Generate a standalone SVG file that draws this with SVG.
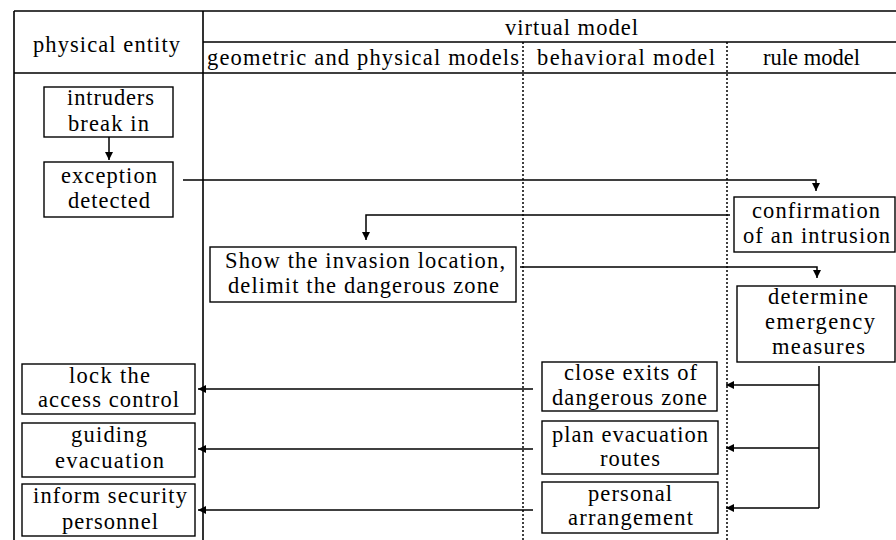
<svg xmlns="http://www.w3.org/2000/svg" width="896" height="540" viewBox="0 0 896 540">
<style>
text{font-family:"Liberation Serif","Times New Roman",serif;font-size:22.5px;fill:#000}
.grid{stroke:#000;stroke-width:1.6;fill:none}
.dot{stroke:#000;stroke-width:1.5;stroke-dasharray:2 2;fill:none}
.box{fill:#fff;stroke:#000;stroke-width:1.4}
.con{stroke:#000;stroke-width:1.5;fill:none;marker-end:url(#ah)}
.ln{stroke:#000;stroke-width:1.5;fill:none}
</style>
<defs>
<marker id="ah" markerUnits="userSpaceOnUse" markerWidth="8" markerHeight="8" refX="8" refY="4" orient="auto">
<path d="M0,0 L8,4 L0,8 z" fill="#000"/>
</marker>
</defs>
<rect width="896" height="540" fill="#fff"/>
<g id="table">
<path class="grid" d="M14,11 H896 M203,42 H896 M14,73 H896 M14,11 V540 M203,11 V540"/>
<path class="dot" d="M523,42 V540 M727,42 V540"/>
<text x="33" y="52" textLength="147" lengthAdjust="spacing">physical entity</text>
<text x="505" y="35" textLength="133" lengthAdjust="spacing">virtual model</text>
<text x="207" y="65" textLength="312" lengthAdjust="spacing">geometric and physical models</text>
<text x="537" y="65" textLength="178" lengthAdjust="spacing">behavioral model</text>
<text x="763" y="65" textLength="97" lengthAdjust="spacing">rule model</text>
</g>
<g id="connectors">
<path class="con" d="M109,137 V160"/>
<path class="con" d="M183,180 H816 V191"/>
<path class="con" d="M730,215 H366 V240"/>
<path class="con" d="M520,267 H817 V278"/>
<path class="ln" d="M819,366 V508"/>
<path class="con" d="M819,385 H726"/>
<path class="con" d="M819,448 H726"/>
<path class="con" d="M819,508 H726"/>
<path class="con" d="M533,389 H198"/>
<path class="con" d="M533,449 H198"/>
<path class="con" d="M533,510 H198"/>
</g>
<g id="intruders">
<rect class="box" x="44" y="87" width="129" height="50"/>
<text x="67" y="105" textLength="87" lengthAdjust="spacing">intruders</text>
<text x="68" y="131" textLength="81" lengthAdjust="spacing">break in</text>
</g>
<g id="exception">
<rect class="box" x="44" y="162" width="129" height="55"/>
<text x="61" y="183" textLength="96" lengthAdjust="spacing">exception</text>
<text x="68" y="208" textLength="82" lengthAdjust="spacing">detected</text>
</g>
<g id="confirmation">
<rect class="box" x="734" y="197" width="161" height="55"/>
<text x="752" y="218" textLength="128" lengthAdjust="spacing">confirmation</text>
<text x="743" y="243" textLength="147" lengthAdjust="spacing">of an intrusion</text>
</g>
<g id="show">
<rect class="box" x="210" y="247" width="306" height="55"/>
<text x="225" y="268" textLength="280" lengthAdjust="spacing">Show the invasion location,</text>
<text x="228" y="293" textLength="271" lengthAdjust="spacing">delimit the dangerous zone</text>
</g>
<g id="determine">
<rect class="box" x="737" y="286" width="158" height="76"/>
<text x="768" y="304" textLength="100" lengthAdjust="spacing">determine</text>
<text x="765" y="329" textLength="110" lengthAdjust="spacing">emergency</text>
<text x="772" y="354" textLength="93" lengthAdjust="spacing">measures</text>
</g>
<g id="close">
<rect class="box" x="542" y="362" width="175" height="49"/>
<text x="564" y="380" textLength="133" lengthAdjust="spacing">close exits of</text>
<text x="552" y="405" textLength="155" lengthAdjust="spacing">dangerous zone</text>
</g>
<g id="plan">
<rect class="box" x="542" y="421" width="176" height="53"/>
<text x="552" y="442" textLength="156" lengthAdjust="spacing">plan evacuation</text>
<text x="600" y="466" textLength="60" lengthAdjust="spacing">routes</text>
</g>
<g id="personal">
<rect class="box" x="542" y="482" width="176" height="51"/>
<text x="588" y="501" textLength="84" lengthAdjust="spacing">personal</text>
<text x="568" y="525" textLength="125" lengthAdjust="spacing">arrangement</text>
</g>
<g id="lock">
<rect class="box" x="22" y="364" width="173" height="50"/>
<text x="69" y="383" textLength="81" lengthAdjust="spacing">lock the</text>
<text x="38" y="407" textLength="141" lengthAdjust="spacing">access control</text>
</g>
<g id="guiding">
<rect class="box" x="22" y="423" width="173" height="54"/>
<text x="71" y="442" textLength="76" lengthAdjust="spacing">guiding</text>
<text x="55" y="468" textLength="109" lengthAdjust="spacing">evacuation</text>
</g>
<g id="inform">
<rect class="box" x="22" y="484" width="173" height="52"/>
<text x="33" y="503" textLength="154" lengthAdjust="spacing">inform security</text>
<text x="62" y="529" textLength="96" lengthAdjust="spacing">personnel</text>
</g>
</svg>
